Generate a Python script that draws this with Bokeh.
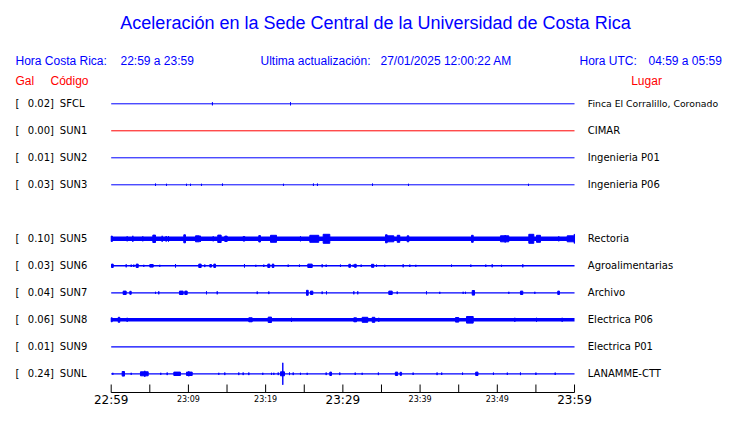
from bokeh.plotting import figure
from bokeh.models import Range1d, ColumnDataSource
from bokeh.core.properties import value
from bokeh.embed import file_html
from bokeh.resources import INLINE

# ---------------- data ----------------
title_text = "Aceleración en la Sede Central de la Universidad de Costa Rica"
hora_cr_label = "Hora Costa Rica:"
hora_cr = "22:59 a 23:59"
update_label = "Ultima actualización:"
update_time = "27/01/2025 12:00:22 AM"
hora_utc_label = "Hora UTC:"
hora_utc = "04:59 a 05:59"

codes = ["SFCL", "SUN1", "SUN2", "SUN3", "SUN5", "SUN6", "SUN7", "SUN8", "SUN9", "SUNL"]
pga = [0.02, 0.00, 0.01, 0.03, 0.10, 0.03, 0.04, 0.06, 0.01, 0.24]
places = ["Finca El Corralillo, Coronado", "CIMAR", "Ingenieria P01", "Ingenieria P06",
          "Rectoria", "Agroalimentarias", "Archivo", "Electrica P06", "Electrica P01",
          "LANAMME-CTT"]
rows = [0, 1, 2, 3, 5, 6, 7, 8, 9, 10]
trace_colors = ["#0000ff", "#ff0000", "#0000ff", "#0000ff", "#0000ff",
                "#0000ff", "#0000ff", "#0000ff", "#0000ff", "#0000ff"]
noise_level = [1.0, 1.0, 1.0, 1.0, 4.5, 1.5, 1.3, 3.5, 1.3, 1.3]   # background band (px)

# minutes since 22:59, (start, end, half amplitude)
ev_SFCL = [(13.11, 13.11, 1.5), (23.22, 23.22, 1.5)]
ev_SUN1 = []
ev_SUN2 = []
ev_SUN3 = [(5.74, 5.74, 1.2), (7.16, 7.16, 1.0), (9.75, 9.75, 1.0), (10.27, 10.27, 1.0),
           (11.69, 11.69, 1.0), (14.41, 14.41, 1.2), (22.31, 22.31, 1.0), (26.19, 26.19, 1.2),
           (26.71, 26.71, 1.2), (33.84, 33.84, 1.2), (38.50, 38.50, 1.0), (54.04, 54.04, 1.0)]
ev_SUN5 = [(0.0, 0.15, 2.7), (2.07, 2.07, 2.5), (2.80, 2.80, 3.0), (4.09, 4.09, 2.5),
           (5.39, 5.74, 3.7), (6.60, 6.60, 3.0), (7.12, 7.12, 2.8), (7.42, 7.42, 2.8),
           (9.40, 9.62, 4.0), (10.92, 11.43, 3.0), (11.56, 11.56, 3.0), (13.21, 13.21, 2.5),
           (13.80, 14.24, 3.7), (14.71, 15.02, 2.7), (17.09, 17.30, 2.3), (19.11, 19.33, 3.2),
           (20.63, 21.41, 3.5), (24.51, 24.51, 2.5), (25.72, 26.88, 3.5), (27.45, 28.31, 4.5),
           (35.52, 35.74, 4.0), (35.74, 36.60, 3.0), (37.04, 37.37, 3.5), (38.33, 38.54, 3.0),
           (46.66, 46.88, 3.5), (50.41, 51.49, 3.0), (51.02, 51.02, 3.7), (54.08, 54.73, 4.5),
           (55.08, 55.59, 3.5), (57.96, 57.96, 2.5), (59.05, 59.91, 3.0), (59.95, 60.0, 4.5)]
ev_SUN6 = [(0.04, 0.26, 1.7), (1.94, 1.94, 1.5), (2.59, 2.59, 1.2), (2.93, 2.93, 1.2),
           (3.24, 3.50, 1.7), (4.22, 4.22, 1.0), (5.00, 5.44, 1.3), (6.29, 6.29, 1.0),
           (8.33, 8.33, 1.7), (11.34, 11.65, 1.7), (12.12, 12.12, 1.3), (12.77, 12.99, 1.3),
           (13.29, 13.51, 1.7), (17.26, 17.26, 1.7), (18.73, 18.73, 1.0), (19.76, 19.76, 1.2),
           (20.28, 20.54, 1.7), (20.85, 21.06, 1.7), (22.92, 22.92, 1.2), (24.38, 24.38, 1.2),
           (25.46, 26.03, 1.7), (27.32, 27.32, 1.5), (27.84, 27.84, 1.2), (29.69, 29.69, 1.2),
           (30.77, 30.99, 1.5), (31.34, 31.34, 1.2), (31.51, 31.73, 1.5), (32.37, 32.37, 1.2),
           (33.71, 34.01, 1.5), (34.36, 34.36, 1.2), (35.43, 35.43, 1.0), (37.81, 37.81, 1.5),
           (38.67, 38.67, 1.2), (39.45, 39.45, 1.0), (44.07, 44.07, 1.2), (46.57, 46.57, 1.2),
           (48.51, 48.51, 1.2), (49.34, 49.34, 1.5), (50.54, 50.54, 1.0), (53.30, 53.30, 1.5)]
ev_SUN7 = [(1.55, 1.94, 1.7), (2.41, 2.59, 1.5), (5.74, 5.74, 1.0), (6.16, 6.16, 1.5),
           (8.84, 9.32, 1.7), (9.53, 9.84, 1.7), (12.34, 12.34, 1.5), (13.73, 13.73, 1.5),
           (18.91, 18.91, 1.3), (20.41, 20.41, 1.3), (25.29, 25.51, 2.5), (25.81, 26.11, 1.7),
           (27.32, 27.32, 1.3), (27.88, 27.88, 1.5), (31.42, 31.42, 1.5), (31.93, 31.93, 1.5),
           (35.95, 36.39, 1.7), (37.04, 37.04, 1.3), (40.83, 40.83, 1.5), (42.55, 42.55, 1.0),
           (45.58, 45.58, 1.0), (45.88, 45.88, 1.0), (46.75, 47.05, 2.3), (51.49, 51.49, 1.0),
           (53.00, 53.30, 1.7), (54.86, 54.86, 1.0), (57.83, 58.05, 1.7)]
ev_SUN8 = [(0.0, 0.13, 2.0), (0.91, 1.11, 2.5), (2.07, 2.07, 2.0), (17.82, 18.26, 2.0),
           (20.33, 20.76, 2.7), (23.35, 23.35, 2.0), (31.42, 31.77, 2.0), (32.50, 33.23, 2.5),
           (33.80, 34.14, 2.5), (34.65, 34.65, 2.0), (44.59, 45.01, 2.3), (46.01, 46.88, 3.3),
           (52.27, 52.27, 2.0), (55.08, 55.08, 2.0), (58.40, 58.40, 2.0)]
ev_SUN9 = []
ev_SUNL = [(0.21, 0.21, 1.0), (1.42, 1.72, 2.3), (2.59, 2.59, 1.0), (3.79, 4.79, 2.0),
           (4.35, 4.35, 3.0), (6.42, 6.42, 1.0), (7.25, 7.25, 1.3), (8.11, 8.97, 1.7),
           (9.75, 10.49, 1.7), (10.05, 10.05, 2.5), (13.93, 13.93, 1.0), (14.71, 14.71, 1.3),
           (16.52, 16.52, 1.3), (17.09, 17.09, 1.3), (17.82, 17.82, 1.3), (19.63, 19.63, 1.0),
           (20.76, 20.76, 1.0), (21.06, 21.06, 1.0), (21.63, 21.63, 1.3), (21.92, 22.44, 2.0),
           (22.22, 22.22, 11.0), (23.09, 23.09, 1.3), (23.57, 23.57, 1.3), (24.51, 24.51, 1.0),
           (25.38, 25.38, 1.0), (27.84, 27.84, 1.3), (28.31, 28.53, 1.7), (29.60, 29.60, 1.3),
           (31.6, 31.6, 1.2), (32.5, 32.5, 1.0), (34.6, 34.6, 1.3), (36.8, 37.1, 1.7),
           (37.4, 37.6, 1.5), (39.1, 39.1, 1.2), (42.2, 42.2, 1.3), (42.8, 42.8, 1.2),
           (45.5, 45.5, 1.2), (47.2, 47.5, 1.7), (49.5, 49.5, 1.2), (51.3, 51.3, 1.2),
           (53.0, 53.0, 1.3), (55.0, 55.0, 1.2), (57.5, 57.5, 1.2)]
events = [ev_SFCL, ev_SUN1, ev_SUN2, ev_SUN3, ev_SUN5, ev_SUN6, ev_SUN7, ev_SUN8, ev_SUN9, ev_SUNL]

tick_minutes = list(range(0, 61, 5))
tick_labels = ["22:59", "", "23:09", "", "23:19", "", "23:29", "", "23:39", "", "23:49", "", "23:59"]
major_ticks = [0, 30, 60]

# ---------------- layout ----------------
W, H = 724, 407
PX_PER_MIN = 7.722
X0_PX = 110.7
ROW0_PX = 103.3
ROW_PX = 27.0


def X(px):  # picture pixel -> minutes
    return (px - X0_PX) / PX_PER_MIN


def Y(py):  # picture pixel -> row units
    return (py - ROW0_PX) / ROW_PX


p = figure(width=W, height=H, output_backend="svg", toolbar_location=None,
           x_range=Range1d(X(0), X(W)), y_range=Range1d(Y(H), Y(0)),
           x_axis_location=None, y_axis_location=None, min_border=0,
           outline_line_color=None, background_fill_color="white",
           border_fill_color="white")
p.grid.visible = False

# baselines
p.segment(x0=[0] * len(rows), x1=[60] * len(rows), y0=rows, y1=rows,
          line_color=trace_colors, line_width=noise_level)

# bursts
qs = dict(l=[], r=[], b=[], t=[], c=[])
for row, col, evs in zip(rows, trace_colors, events):
    for s, e, a in evs:
        qs["l"].append(s)
        qs["r"].append(e)
        qs["b"].append(row - a / ROW_PX)
        qs["t"].append(row + a / ROW_PX)
        qs["c"].append(col)
p.quad(left="l", right="r", bottom="b", top="t", source=ColumnDataSource(qs),
       fill_color="c", line_color="c", line_width=1)

# time axis
AX_Y = 392
p.segment(x0=[0], x1=[60], y0=[Y(AX_Y)], y1=[Y(AX_Y)], line_color="black", line_width=1)
p.segment(x0=tick_minutes, x1=tick_minutes, y0=[Y(AX_Y)] * len(tick_minutes),
          y1=[Y(AX_Y - 8)] * len(tick_minutes), line_color="black", line_width=1)
big_x = [m for m, l in zip(tick_minutes, tick_labels) if l and m in major_ticks]
big_t = [l for m, l in zip(tick_minutes, tick_labels) if l and m in major_ticks]
small_x = [m for m, l in zip(tick_minutes, tick_labels) if l and m not in major_ticks]
small_t = [l for m, l in zip(tick_minutes, tick_labels) if l and m not in major_ticks]
p.text(x=big_x, y=[Y(AX_Y + 7)] * len(big_x), text=big_t, text_font=value("DejaVu Sans"),
       text_font_size="12px", text_align="center", text_baseline="middle", text_color="black")
p.text(x=small_x, y=[Y(AX_Y + 6.5)] * len(small_x), text=small_t, text_font=value("DejaVu Sans"),
       text_font_size="8px", text_align="center", text_baseline="middle", text_color="black")

# station labels
ry = [r for r in rows]
p.text(x=[X(15)] * len(rows), y=ry, text=["["] * len(rows), text_font=value("DejaVu Sans"),
       text_font_size="10px", text_baseline="middle", text_color="black")
p.text(x=[X(27.3)] * len(rows), y=ry, text=["%.2f]" % v for v in pga],
       text_font=value("DejaVu Sans"), text_font_size="10px", text_baseline="middle",
       text_color="black")
p.text(x=[X(59.3)] * len(rows), y=ry, text=codes, text_font=value("DejaVu Sans"),
       text_font_size="10px", text_baseline="middle", text_color="black")
place_sizes = ["9.3px" if len(s) > 20 else "10px" for s in places]
p.text(x=[X(587.3)] * len(rows), y=ry, text=places, text_font=value("DejaVu Sans"),
       text_font_size=place_sizes, text_baseline="middle", text_color="black")

# header texts
BLUE = "#0000ff"
RED = "#ff0000"
p.text(x=[X(375)], y=[Y(22)], text=[title_text], text_font=value("Liberation Sans"),
       text_font_size="18px", text_align="center", text_baseline="middle", text_color=BLUE)
hdr_x = [X(15), X(120), X(260), X(380), X(579), X(648)]
hdr_t = [hora_cr_label, hora_cr, update_label, update_time, hora_utc_label, hora_utc]
p.text(x=hdr_x, y=[Y(60.7)] * len(hdr_x), text=hdr_t, text_font=value("Liberation Sans"),
       text_font_size="12px", text_baseline="middle", text_color=BLUE)
p.text(x=[X(15), X(50), X(630.7)], y=[Y(80.7)] * 3, text=["Gal", "Código", "Lugar"],
       text_font=value("Liberation Sans"), text_font_size="12px", text_baseline="middle",
       text_color=RED)

open("out.html", "w").write(file_html(p, INLINE))
